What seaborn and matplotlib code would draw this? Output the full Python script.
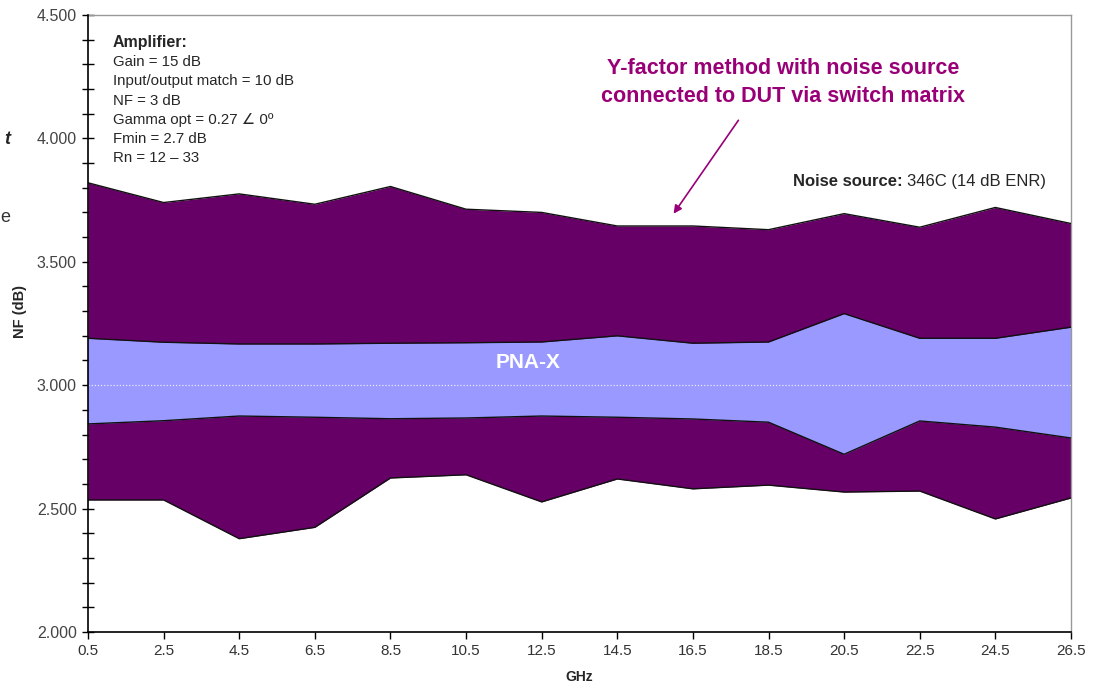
import numpy as np
import pandas as pd
import matplotlib
matplotlib.use('Agg')
import matplotlib.pyplot as plt
from matplotlib.ticker import MultipleLocator, FormatStrFormatter
import seaborn as sns

# frequency points (GHz)
ghz = [0.5, 2.5, 4.5, 6.5, 8.5, 10.5, 12.5, 14.5, 16.5, 18.5, 20.5, 22.5, 24.5, 26.5]
# Y-factor uncertainty envelope
yf_upper = [3.82, 3.74, 3.775, 3.733, 3.805, 3.713, 3.70, 3.645, 3.645, 3.63, 3.695, 3.64, 3.72, 3.655]
yf_lower = [2.535, 2.535, 2.378, 2.424, 2.624, 2.637, 2.527, 2.62, 2.58, 2.595, 2.567, 2.571, 2.458, 2.543]
# PNA-X uncertainty envelope
pna_upper = [3.19, 3.174, 3.167, 3.167, 3.17, 3.172, 3.175, 3.20, 3.17, 3.175, 3.29, 3.19, 3.19, 3.235]
pna_lower = [2.843, 2.856, 2.875, 2.87, 2.864, 2.867, 2.875, 2.87, 2.863, 2.85, 2.72, 2.855, 2.83, 2.786]

dark = "#660066"
light = "#9999FF"
magenta = "#990077"

sns.set_style("white")
plt.rcParams['font.family'] = ['Liberation Sans', 'DejaVu Sans']

fig = plt.figure(figsize=(11, 6.9), dpi=100)
ax = fig.add_axes([0.08, 0.0841, 0.8936, 0.8942])

ax.fill_between(ghz, yf_lower, yf_upper, color=dark, lw=0, zorder=1)
ax.fill_between(ghz, pna_lower, pna_upper, color=light, lw=0, zorder=2)

lines = pd.DataFrame({
    "GHz": ghz * 4,
    "NF": yf_upper + yf_lower + pna_upper + pna_lower,
    "series": ["yf_u"] * 14 + ["yf_l"] * 14 + ["pna_u"] * 14 + ["pna_l"] * 14,
})
sns.lineplot(data=lines, x="GHz", y="NF", hue="series", units="series", estimator=None,
             palette=["#111111"] * 4, lw=1.0, legend=False, ax=ax, zorder=3)

ax.axhline(3.0, color="#e8e8ff", lw=0.9, ls=(0, (1, 1.5)), zorder=2.5)

ax.set_xlim(0.5, 26.5)
ax.set_ylim(2.0, 4.5)
ax.set_xticks(ghz)
ax.set_xticklabels([str(g) for g in ghz])
ax.yaxis.set_major_locator(MultipleLocator(0.5))
ax.yaxis.set_minor_locator(MultipleLocator(0.1))
ax.yaxis.set_major_formatter(FormatStrFormatter('%.3f'))
ax.tick_params(axis='y', which='both', direction='inout', length=8, width=1, color='black',
               labelsize=11.5, labelcolor='#444444', pad=4, left=True)
ax.tick_params(axis='x', direction='out', length=5, width=1, color='black',
               labelsize=11, labelcolor='#333333', pad=4, bottom=True)

for s in ['left', 'bottom']:
    ax.spines[s].set_color('black')
    ax.spines[s].set_linewidth(1.2)
for s in ['top', 'right']:
    ax.spines[s].set_color('#999999')
    ax.spines[s].set_linewidth(1.0)
ax.spines['left'].set_zorder(5)

ax.set_xlabel("GHz", fontsize=10, fontweight='bold', labelpad=8)
ax.set_ylabel("NF (dB)", fontsize=10.5, fontweight='bold')
ax.yaxis.set_label_coords(-0.062, 0.52)

# amplifier info block
fig.text(113 / 1100, 1 - 43 / 690, "Amplifier:", fontsize=11.5, fontweight='bold', va='center')
amp_lines = ["Gain = 15 dB", "Input/output match = 10 dB", "NF = 3 dB",
             "Gamma opt = 0.27 \u2220 0\u00ba", "Fmin = 2.7 dB", "Rn = 12 \u2013 33"]
for i, t in enumerate(amp_lines):
    fig.text(113 / 1100, 1 - (62 + i * 19.3) / 690, t, fontsize=10.8, va='center')

fig.text(783 / 1100, 1 - 68 / 690, "Y-factor method with noise source", fontsize=15.5,
         fontweight='bold', color=magenta, ha='center', va='center')
fig.text(783 / 1100, 1 - 97 / 690, "connected to DUT via switch matrix", fontsize=15.5,
         fontweight='bold', color=magenta, ha='center', va='center')
fig.add_artist(matplotlib.patches.FancyArrowPatch(
    (740 / 1100, 1 - 118 / 690), (672 / 1100, 1 - 216 / 690), transform=fig.transFigure,
    arrowstyle='-|>', mutation_scale=12, color=magenta, lw=1.2))

ns = fig.text(793 / 1100, 1 - 186 / 690, "Noise source:", fontsize=12, fontweight='bold', va='baseline')
fig.canvas.draw()
bb = ns.get_window_extent()
fig.text((bb.x1 + 4) / 1100, 1 - 186 / 690, "346C (14 dB ENR)", fontsize=12, va='baseline')

fig.text(528 / 1100, 1 - 362 / 690, "PNA-X", fontsize=15, fontweight='bold', color='white',
         ha='center', va='center')

# clipped slide text at left edge
fig.text(10 / 1100, 1 - 140 / 690, "t", fontsize=13, fontweight='bold', style='italic',
         ha='right', va='center')
fig.text(10 / 1100, 1 - 218 / 690, "e", fontsize=13, ha='right', va='center', color='#333333')

fig.savefig("out.png", dpi=100)
